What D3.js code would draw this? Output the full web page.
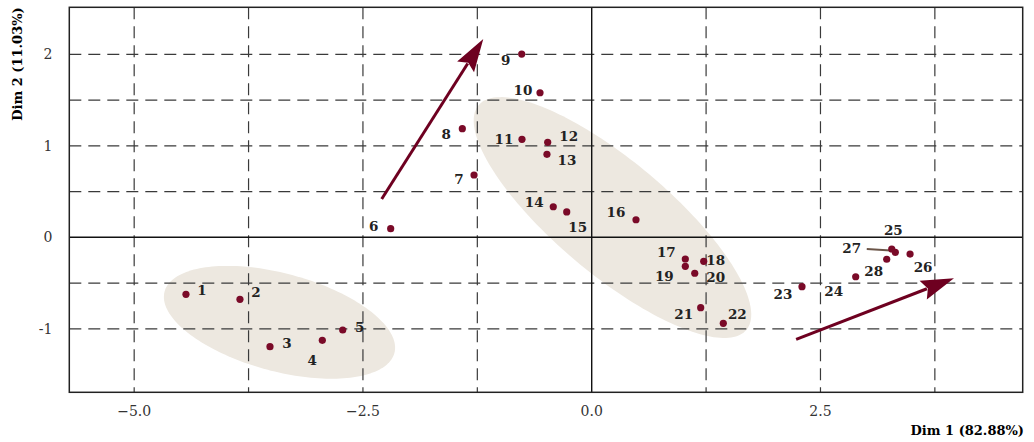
<!DOCTYPE html>
<html>
<head>
<meta charset="utf-8">
<script src="https://cdn.jsdelivr.net/npm/d3@7"></script>
<style>
  body { margin: 0; background: #fff; }
  text { font-family: "DejaVu Serif", serif; }
</style>
</head>
<body>
<div id="chart"></div>
<script>
// data
var pointLabels = ["1", "2", "3", "4", "5", "6", "7", "8", "9", "10", "11", "12", "13", "14",
  "15", "16", "17", "18", "19", "20", "21", "22", "23", "24", "25", "26", "27", "28"];
var dim1 = [-4.434, -3.844, -3.516, -2.944, -2.721, -2.197, -1.286, -1.414, -0.765, -0.565,
  -0.762, -0.481, -0.489, -0.420, -0.273, 0.484, 1.023, 1.224, 1.023, 1.126, 1.191, 1.438,
  2.298, 2.885, 3.318, 3.479, 3.279, 3.224];
var dim2 = [-0.623, -0.678, -1.195, -1.126, -1.013, 0.094, 0.681, 1.187, 2.003, 1.580,
  1.071, 1.038, 0.907, 0.334, 0.277, 0.192, -0.237, -0.262, -0.317, -0.393, -0.769, -0.940,
  -0.540, -0.431, -0.164, -0.183, -0.128, -0.240];

// confidence ellipses (centre, semi axes, rotation in degrees)
var ellCx = [-3.412, 0.227];
var ellCy = [-0.929, 0.216];
var ellA = [1.30, 1.91];
var ellB = [0.535, 0.62];
var ellAngle = [-15, -40];

// variable arrows
var arrowX0 = [-2.295, 2.234];
var arrowY0 = [0.419, -1.115];
var arrowX1 = [-1.185, 3.959];
var arrowY1 = [2.167, -0.448];

var xTicks = [-5.0, -2.5, 0.0, 2.5];
var yTicks = [-1, 0, 1, 2];

// settings
var svgWidth = 1034;
var svgHeight = 442;
var margin = { top: 7.3, right: 11.3, bottom: 49.7, left: 69.3 };
var width = svgWidth - margin.left - margin.right;
var height = svgHeight - margin.top - margin.bottom;
var pointColor = "#7a0a28";
var arrowColor = "#6e0020";
var ellipseColor = "#ede8e0";

// label nudges in pixels (layout only)
var labelNudge = [[16, -4], [16, -7], [17, -4], [-10, 20], [17, -3], [-17, -3], [-15, 4],
  [-16, 5], [-16, 6], [-17, -3], [-18, 0], [21, -6], [20, 6], [-19, -5], [11, 15],
  [-20, -8], [-19, -7], [12, -1], [-21, 10], [21, 4], [-17, 6], [14, -9], [-19, 7],
  [-22, 14], [-2, -22], [13, 13], [-40, -1], [-13, 12]];

var svg = d3.select("#chart").append("svg")
  .attr("width", svgWidth)
  .attr("height", svgHeight);

var g = svg.append("g")
  .attr("transform", `translate(${margin.left}, ${margin.top})`);

var x = d3.scaleLinear().domain([-5.709, 4.710]).range([0, width]);
var y = d3.scaleLinear().domain([-1.694, 2.514]).range([height, 0]);

// ellipses
var line = d3.line().x(d => x(d[0])).y(d => y(d[1])).curve(d3.curveLinearClosed);
for (var i = 0; i < ellCx.length; i++) {
  var th = ellAngle[i] * Math.PI / 180;
  var pts = d3.range(0, 360, 2).map(function (deg) {
    var t = deg * Math.PI / 180;
    return [
      ellCx[i] + ellA[i] * Math.cos(t) * Math.cos(th) - ellB[i] * Math.sin(t) * Math.sin(th),
      ellCy[i] + ellA[i] * Math.cos(t) * Math.sin(th) + ellB[i] * Math.sin(t) * Math.cos(th)
    ];
  });
  g.append("path").attr("d", line(pts)).attr("fill", ellipseColor);
}

// dashed grid
var xGrid = d3.range(-5, 4.7, 1.25).filter(v => v !== 0);
var yGrid = d3.range(-1, 2.01, 0.5).filter(v => v !== 0);
g.selectAll(".xgrid").data(xGrid).enter().append("line")
  .attr("x1", d => x(d)).attr("x2", d => x(d))
  .attr("y1", 0).attr("y2", height)
  .attr("stroke", "#3a3a3a").attr("stroke-width", 1.2)
  .attr("stroke-dasharray", "12,7");
g.selectAll(".ygrid").data(yGrid).enter().append("line")
  .attr("y1", d => y(d)).attr("y2", d => y(d))
  .attr("x1", 0).attr("x2", width)
  .attr("stroke", "#3a3a3a").attr("stroke-width", 1.2)
  .attr("stroke-dasharray", "12,7");

// zero lines
g.append("line").attr("x1", x(0)).attr("x2", x(0)).attr("y1", 0).attr("y2", height)
  .attr("stroke", "#111").attr("stroke-width", 1.4);
g.append("line").attr("y1", y(0)).attr("y2", y(0)).attr("x1", 0).attr("x2", width)
  .attr("stroke", "#111").attr("stroke-width", 1.4);

// frame
g.append("rect").attr("width", width).attr("height", height)
  .attr("fill", "none").attr("stroke", "#222").attr("stroke-width", 1.5);

// arrows
for (var i = 0; i < arrowX0.length; i++) {
  var sx = x(arrowX0[i]), sy = y(arrowY0[i]);
  var ex = x(arrowX1[i]), ey = y(arrowY1[i]);
  var ang = Math.atan2(ey - sy, ex - sx);
  var headLen = 33, headHalf = 10;
  var bx = ex - headLen * Math.cos(ang), by = ey - headLen * Math.sin(ang);
  g.append("line")
    .attr("x1", sx).attr("y1", sy)
    .attr("x2", bx + 4 * Math.cos(ang)).attr("y2", by + 4 * Math.sin(ang))
    .attr("stroke", arrowColor).attr("stroke-width", 3);
  var head = [
    [ex, ey],
    [bx - headHalf * Math.sin(ang), by + headHalf * Math.cos(ang)],
    [bx + 5 * Math.cos(ang), by + 5 * Math.sin(ang)],
    [bx + headHalf * Math.sin(ang), by - headHalf * Math.cos(ang)]
  ];
  g.append("polygon").attr("points", head.map(p => p.join(",")).join(" "))
    .attr("fill", arrowColor);
}

// leader segment for label 27
var i27 = pointLabels.indexOf("27");
g.append("line")
  .attr("x1", x(dim1[i27]) + labelNudge[i27][0] + 15)
  .attr("y1", y(dim2[i27]) + labelNudge[i27][1] + 1)
  .attr("x2", x(dim1[i27]) - 1)
  .attr("y2", y(dim2[i27]) + 1.5)
  .attr("stroke", "#6b5548").attr("stroke-width", 2);

// points
g.selectAll(".pt").data(pointLabels).enter().append("circle")
  .attr("cx", (d, i) => x(dim1[i]))
  .attr("cy", (d, i) => y(dim2[i]))
  .attr("r", 3.6)
  .attr("fill", pointColor);

// point labels
g.selectAll(".lbl").data(pointLabels).enter().append("text")
  .attr("x", (d, i) => x(dim1[i]) + labelNudge[i][0])
  .attr("y", (d, i) => y(dim2[i]) + labelNudge[i][1])
  .attr("text-anchor", "middle")
  .attr("dominant-baseline", "central")
  .attr("font-size", "13.5px")
  .attr("font-weight", "bold")
  .attr("fill", "#222")
  .text(d => d);

// tick labels
g.selectAll(".xt").data(xTicks).enter().append("text")
  .attr("x", d => x(d)).attr("y", height + 19)
  .attr("text-anchor", "middle").attr("dominant-baseline", "central")
  .attr("font-size", "14px").attr("fill", "#333")
  .text(d => d3.format(".1f")(d));
g.selectAll(".yt").data(yTicks).enter().append("text")
  .attr("x", -17).attr("y", d => y(d))
  .attr("text-anchor", "end").attr("dominant-baseline", "central")
  .attr("font-size", "14px").attr("fill", "#333")
  .text(d => d);

// axis titles
svg.append("text")
  .attr("x", 1024).attr("y", 430)
  .attr("text-anchor", "end").attr("dominant-baseline", "central")
  .attr("font-size", "13px").attr("font-weight", "bold")
  .text("Dim 1 (82.88%)");
svg.append("text")
  .attr("transform", "translate(17, 64) rotate(-90)")
  .attr("text-anchor", "middle").attr("dominant-baseline", "central")
  .attr("font-size", "13px").attr("font-weight", "bold")
  .text("Dim 2 (11.03%)");
</script>
</body>
</html>
